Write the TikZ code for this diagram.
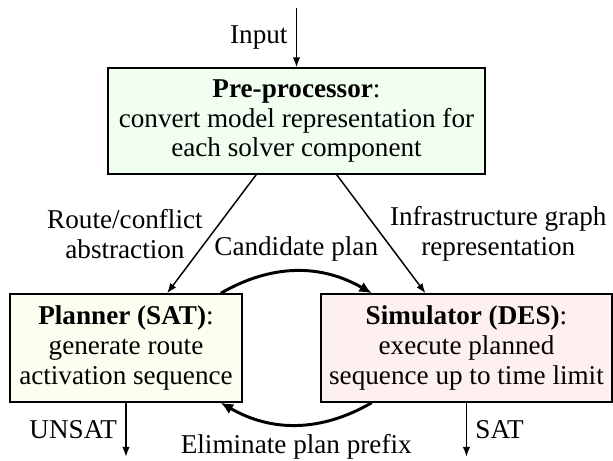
\documentclass[tikz,border=0pt]{standalone}
\usepackage{fontspec}
\setmainfont{Liberation Serif}
\usetikzlibrary{arrows.meta}

\definecolor{pregreen}{RGB}{240,255,240}
\definecolor{planyellow}{RGB}{253,253,240}
\definecolor{simpink}{RGB}{255,240,240}

\begin{document}
\begin{tikzpicture}[auto, >={Latex[length=4pt,width=3pt]},
    font=\fontsize{11}{12}\selectfont,
    box/.style={draw, rectangle, semithick, align=center, inner sep=2pt},
    flow/.style={->, semithick},
    loop/.style={-{Latex[length=5pt,width=4.5pt]}, very thick}]
  \useasboundingbox (0,0) rectangle (8.723,-6.560);

  \node (pre) at (4.219,-1.722) [box, fill=pregreen, minimum width=5.365cm, minimum height=1.508cm]
    {\textbf{Pre-processor}:\\convert model representation for\\each solver component};
  \node (planner) at (1.793,-4.952) [box, fill=planyellow, minimum width=3.301cm, minimum height=1.537cm]
    {\textbf{Planner (SAT)}:\\generate route\\activation sequence};
  \node (sim) at (6.638,-4.952) [box, fill=simpink, minimum width=4.141cm, minimum height=1.537cm]
    {\textbf{Simulator (DES)}:\\execute planned\\sequence up to time limit};

  % free ends of the in/out arrows
  \coordinate (in) at (4.219,-0.114);
  \coordinate (unsat) at (1.793,-6.50);
  \coordinate (sat) at (6.638,-6.50);

  \draw[flow] (in) to node[midway, left] {Input} (pre);
  \draw[flow] (pre) to node[midway, left, align=center] {Route/conflict\\abstraction} (planner);
  \draw[flow] (pre) to node[midway, right, align=center] {Infrastructure graph\\representation} (sim);

  %% the SAT/DES loop
  \draw[loop] (planner) to[bend left] node {Candidate plan} (sim);
  \draw[loop] (sim) to[bend left] node {Eliminate plan prefix} (planner);

  \draw[flow] (planner) to node[midway, left] {UNSAT} (unsat);
  \draw[flow] (sim) to node[midway, right] {SAT} (sat);
\end{tikzpicture}
\end{document}
